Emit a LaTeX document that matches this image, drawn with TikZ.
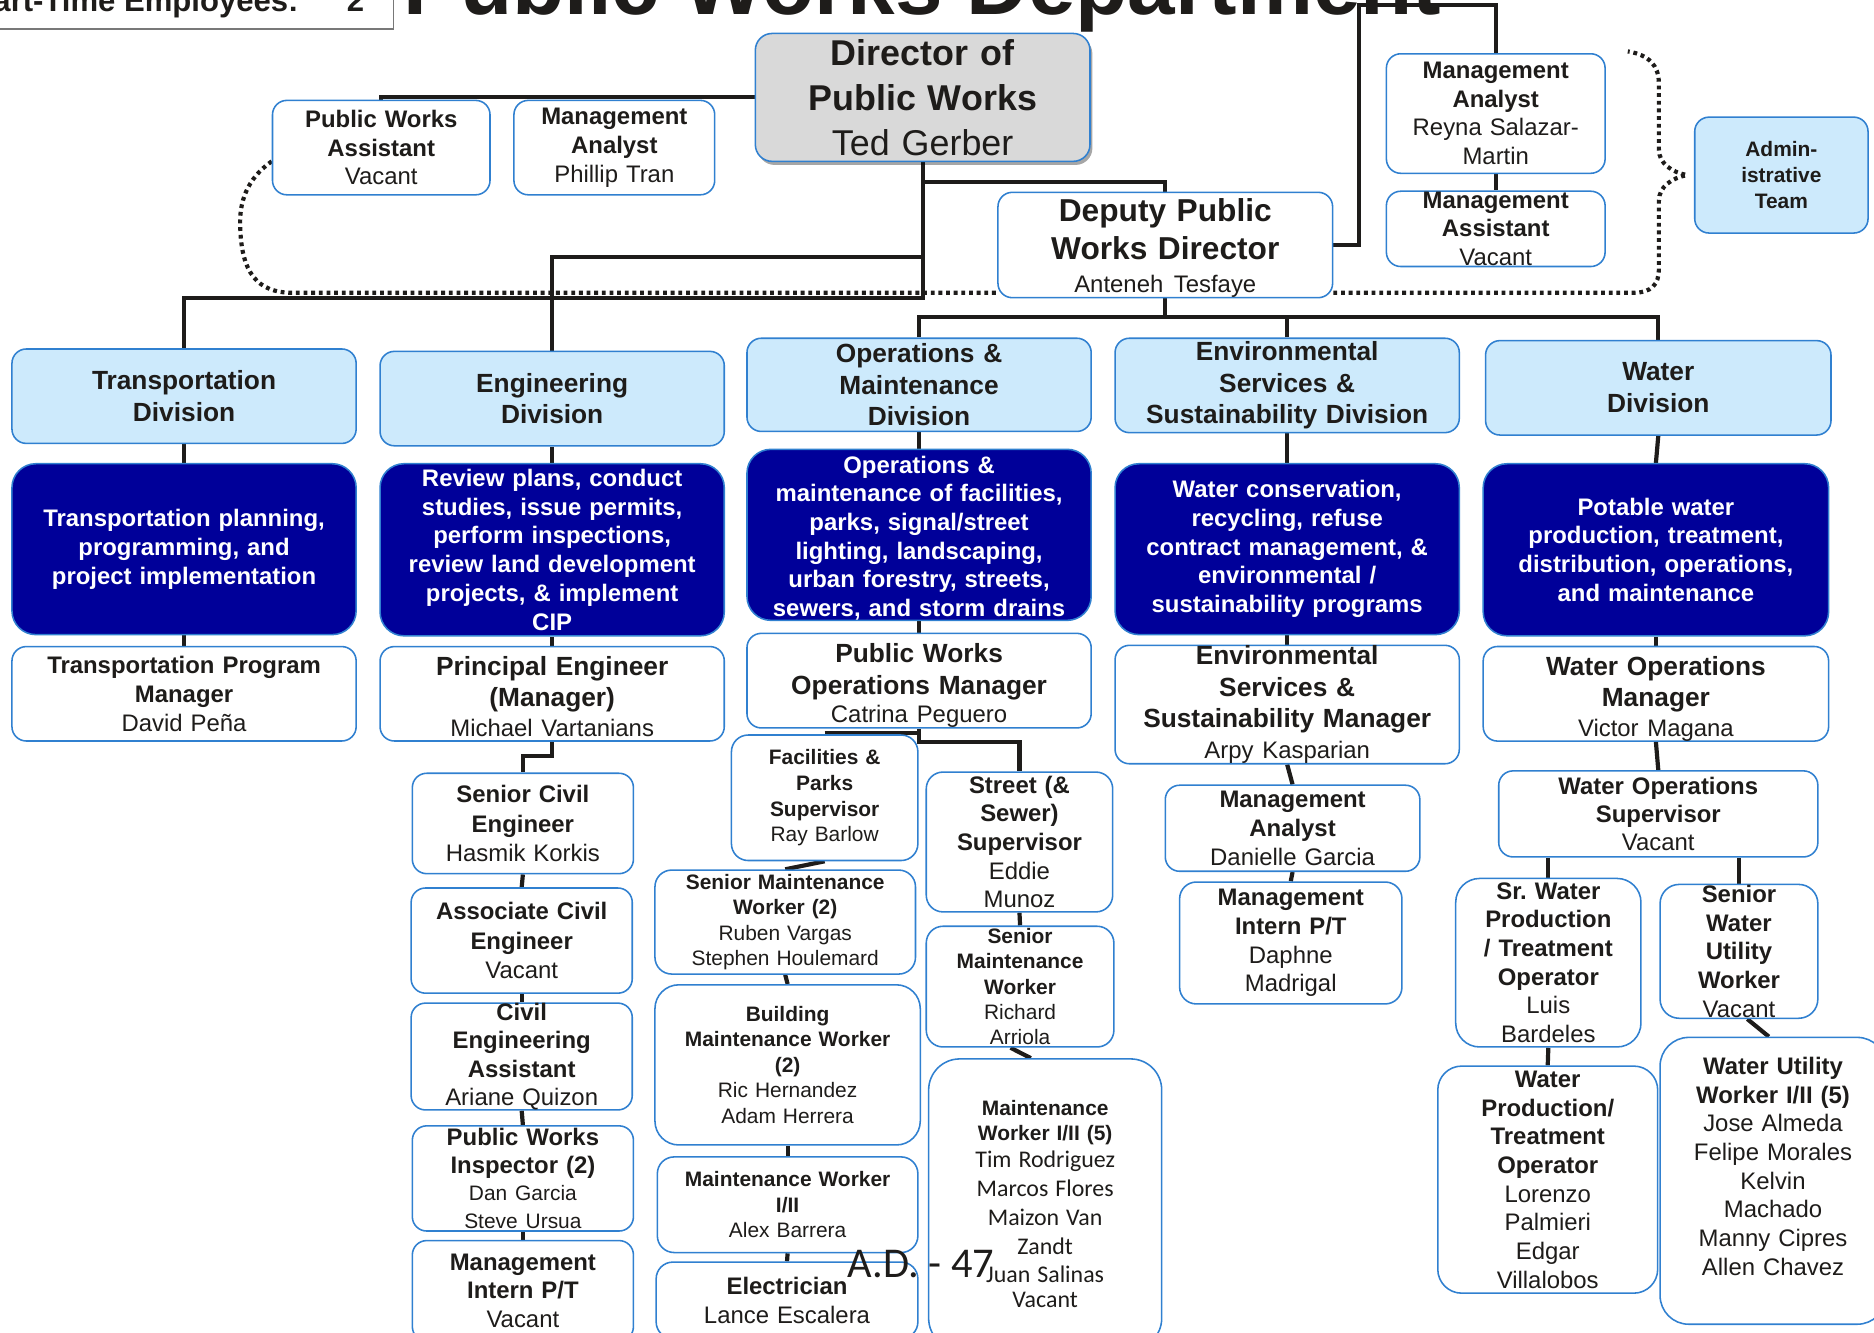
\documentclass[tikz,border=0pt]{standalone}
\usepackage{fontspec}
\setmainfont{Liberation Sans}
\newfontfamily\calib{Carlito}
\usetikzlibrary{shadows,backgrounds}
\definecolor{ink}{RGB}{30,28,26}
\definecolor{edgeblue}{RGB}{48,128,208}
\definecolor{paleblue}{RGB}{205,234,252}
\definecolor{navyfill}{RGB}{0,0,153}
\definecolor{dirgray}{RGB}{217,217,217}
\definecolor{framegray}{RGB}{120,120,120}
\frenchspacing
\begin{document}
\begin{tikzpicture}[x=1pt,y=-1pt,
  conn/.style={draw=ink, line width=3.5pt},
  adminlink/.style={draw=ink, line width=3.5pt, dash pattern=on 3.2pt off 3.2pt},
  sz/.style 2 args={minimum width=#1pt, minimum height=#2pt, text width=#1pt},
  orgbox/.style={draw=edgeblue, line width=1.3pt, fill=white, rounded corners=12pt,
    inner sep=0pt, align=center, text=ink},
  bigbox/.style={orgbox, rounded corners=20pt},
  divbox/.style={orgbox, fill=paleblue, font=\fontsize{22}{26.5}\selectfont\bfseries},
  descbox/.style={orgbox, fill=navyfill, rounded corners=20pt, text=white,
    font=\fontsize{20}{24}\selectfont\bfseries},
  fa/.style={font=\fontsize{20}{24}\selectfont},
  fb/.style={font=\fontsize{17.5}{21.3}\selectfont},
  fm/.style={font=\fontsize{22}{26.5}\selectfont},
  headtext/.style={anchor=base west, inner sep=0pt, text=ink}]
\useasboundingbox (0,0) rectangle (1568,1115);

% ---------- header ----------
\node[draw=framegray, line width=1.4pt, fill=white, minimum width=360pt,
  minimum height=45pt, anchor=south east, inner sep=0pt] (ptbox) at (330,25) {};
\node[headtext, font=\fontsize{26}{30}\selectfont\bfseries] (pttext) at (-23,10) {Part-Time Employees:};
\node[headtext, font=\fontsize{26}{30}\selectfont\bfseries] (ptcount) at (290,10) {2};
\node[headtext, font=\fontsize{71.5}{80}\selectfont\bfseries] (title) at (337,12.5) {Public Works Department};

% ---------- director level ----------
\node[orgbox, fill=dirgray, rounded corners=14pt, sz={280}{107},
  drop shadow={shadow xshift=2pt, shadow yshift=-3pt, opacity=0.35, fill=black},
  font=\fontsize{30}{37.5}\selectfont] (dir) at (772,81.5)
  {\textbf{Director of}\\\textbf{Public Works}\\Ted Gerber};
\node[orgbox, sz={182}{79}, fa] (pwa) at (319,123.5) {\textbf{Public Works}\\\textbf{Assistant}\\Vacant};
\node[orgbox, sz={168}{79}, fa] (ma1) at (514,123.5) {\textbf{Management}\\\textbf{Analyst}\\Phillip Tran};
\node[orgbox, sz={280}{80}, font=\fontsize{26.5}{32}\selectfont] (dep) at (975,205)
  {\rule{0pt}{24pt}\textbf{Deputy Public}\\\textbf{Works Director}\\[-4pt]{\fontsize{20}{24}\selectfont Anteneh Tesfaye}};
\node[orgbox, sz={183}{100}, fa] (ma2) at (1251.5,95)
  {\textbf{Management}\\\textbf{Analyst}\\Reyna Salazar-\\Martin};
\node[orgbox, sz={183}{63}, fa] (massist) at (1251.5,191.5)
  {\textbf{Management}\\\textbf{Assistant}\\Vacant};
\node[orgbox, fill=paleblue, sz={145}{97}, font=\fontsize{17.5}{21.5}\selectfont\bfseries] (admin)
  at (1490.5,146.5) {Admin-\\istrative\\Team};

% ---------- divisions ----------
\node[divbox, sz={288}{79}] (tdiv) at (154,331.5) {Transportation\\Division};
\node[divbox, sz={288}{79}] (ediv) at (462,333.5) {Engineering\\Division};
\node[divbox, sz={288}{78}] (odiv) at (769,322) {Operations \&\\Maintenance\\Division};
\node[divbox, sz={288}{79}] (sdiv) at (1077,322.5) {Environmental\\Services \&\\Sustainability Division};
\node[divbox, sz={289}{79}] (wdiv) at (1387.5,324.5) {Water\\Division};

% ---------- responsibilities ----------
\node[descbox, sz={288}{143}] (tdesc) at (154,459.5)
  {Transportation planning,\\programming, and\\project implementation};
\node[descbox, sz={288}{144}] (edesc) at (462,460)
  {Review plans, conduct\\studies, issue permits,\\perform inspections,\\review land development\\projects, \& implement\\CIP};
\node[descbox, sz={288}{143}] (odesc) at (769,447.5)
  {\rule{0pt}{20pt}Operations \&\\maintenance of facilities,\\parks, signal/street\\lighting, landscaping,\\urban forestry, streets,\\sewers, and storm drains};
\node[descbox, sz={288}{143}] (sdesc) at (1077,459.5)
  {Water conservation,\\recycling, refuse\\contract management, \&\\environmental /\\sustainability programs};
\node[descbox, sz={289}{144}] (wdesc) at (1385.5,460)
  {Potable water\\production, treatment,\\distribution, operations,\\and maintenance};

% ---------- managers ----------
\node[orgbox, sz={288}{79}, fa] (tmgr) at (154,580.5)
  {\textbf{Transportation Program}\\\textbf{Manager}\\David Peña};
\node[orgbox, sz={288}{79}, font=\fontsize{22}{26}\selectfont] (emgr) at (462,580.5)
  {\rule{0pt}{20pt}\textbf{Principal Engineer}\\\textbf{(Manager)}\\[-1pt]{\fontsize{20}{24}\selectfont Michael Vartanians}};
\node[orgbox, sz={288}{79}, font=\fontsize{22}{27}\selectfont] (omgr) at (769,569.5)
  {\rule{0pt}{24pt}\textbf{Public Works}\\\textbf{Operations Manager}\\[-3pt]{\fontsize{20}{24}\selectfont Catrina Peguero}};
\node[orgbox, sz={288}{97}, fm] (smgr) at (1077,589.5)
  {\textbf{Environmental}\\\textbf{Services \&}\\\textbf{Sustainability Manager}\\[-0.5pt]{\fontsize{20}{24}\selectfont Arpy Kasparian}};
\node[orgbox, sz={289}{79}, font=\fontsize{22}{26}\selectfont] (wmgr) at (1385.5,580.5)
  {\rule{0pt}{24pt}\textbf{Water Operations}\\\textbf{Manager}\\[-1pt]{\fontsize{20}{24}\selectfont Victor Magana}};

% ---------- engineering staff ----------
\node[orgbox, sz={185}{84}, font=\fontsize{20}{24.5}\selectfont] (sce) at (437.5,689)
  {\textbf{Senior Civil}\\\textbf{Engineer}\\Hasmik Korkis};
\node[orgbox, sz={185}{88}, font=\fontsize{20}{24.5}\selectfont] (ace) at (436.5,787)
  {\textbf{Associate Civil}\\\textbf{Engineer}\\Vacant};
\node[orgbox, sz={185}{88}, font=\fontsize{20}{23.7}\selectfont] (cea) at (436.5,884)
  {\textbf{Civil}\\\textbf{Engineering}\\\textbf{Assistant}\\Ariane Quizon};
\node[orgbox, sz={185}{88}, fa] (pwi) at (437.5,986)
  {\textbf{Public Works}\\\textbf{Inspector (2)}\\\fontsize{17.5}{22}\selectfont Dan Garcia\\\fontsize{17.5}{21}\selectfont Steve Ursua};
\node[orgbox, sz={185}{84}, fa] (mint) at (437.5,1080)
  {\textbf{Management}\\\textbf{Intern P/T}\\Vacant};

% ---------- operations staff ----------
\node[orgbox, rounded corners=14pt, sz={156}{105}, font=\fontsize{17.5}{21.5}\selectfont] (fps) at (690,667.5)
  {\textbf{Facilities \&}\\\textbf{Parks}\\\textbf{Supervisor}\\Ray Barlow};
\node[orgbox, rounded corners=14pt, sz={156}{117}, fa] (sss) at (853,704.5)
  {\textbf{Street (\&}\\\textbf{Sewer)}\\\textbf{Supervisor}\\Eddie\\Munoz};
\node[orgbox, rounded corners=14pt, sz={218}{87}, fb] (smw2) at (657,771.5)
  {\textbf{Senior Maintenance}\\\textbf{Worker (2)}\\Ruben Vargas\\Stephen Houlemard};
\node[orgbox, rounded corners=14pt, sz={157}{101}, fb] (smwr) at (853.5,825.5)
  {\textbf{Senior}\\\textbf{Maintenance}\\\textbf{Worker}\\Richard\\Arriola};
\node[bigbox, sz={222}{134}, fb] (bmw) at (659,891)
  {\textbf{Building}\\\textbf{Maintenance Worker}\\\textbf{(2)}\\Ric Hernandez\\Adam Herrera};
\node[orgbox, rounded corners=14pt, sz={218}{80}, font=\fontsize{17.5}{21.5}\selectfont] (mw) at (659,1008)
  {\textbf{Maintenance Worker}\\\textbf{I/II}\\Alex Barrera};
\node[orgbox, rounded corners=14pt, sz={219}{64}, fa] (elec) at (658.5,1088)
  {\textbf{Electrician}\\Lance Escalera};
\node[orgbox, rounded corners=26pt, sz={195}{243}, font=\fontsize{17.5}{21}\selectfont] (mw5) at (874.5,1007.5)
  {\textbf{Maintenance}\\\textbf{Worker I/II (5)}\\\fontsize{20}{23}\calib Tim Rodriguez\\\fontsize{20}{24}\calib Marcos Flores\\Maizon Van\\Zandt\\Juan Salinas\\Vacant};

% ---------- environmental staff ----------
\node[orgbox, sz={213}{72}, fa] (ma3) at (1081.5,693)
  {\textbf{Management}\\\textbf{Analyst}\\Danielle Garcia};
\node[orgbox, rounded corners=14pt, sz={186}{102}, fa] (mint2) at (1080,789)
  {\textbf{Management}\\\textbf{Intern P/T}\\Daphne\\Madrigal};

% ---------- water staff ----------
\node[orgbox, sz={267}{72}, font=\fontsize{20}{23.5}\selectfont] (wos) at (1387.5,681)
  {\textbf{Water Operations}\\\textbf{Supervisor}\\Vacant};
\node[bigbox, sz={155}{141}, fa] (swp) at (1295.5,805.5)
  {\textbf{Sr. Water}\\\textbf{Production}\\\textbf{/ Treatment}\\\textbf{Operator}\\Luis\\Bardeles};
\node[orgbox, rounded corners=16pt, sz={132}{112}, fa] (swu) at (1455,796)
  {\textbf{Senior}\\\textbf{Water}\\\textbf{Utility}\\\textbf{Worker}\\Vacant};
\node[bigbox, sz={184}{190}, fa] (wpt) at (1295,987)
  {\textbf{Water}\\\textbf{Production/}\\\textbf{Treatment}\\\textbf{Operator}\\Lorenzo\\Palmieri\\Edgar\\Villalobos};
\node[orgbox, rounded corners=24pt, sz={189}{240}, fa, text depth=192.4pt] (wuw) at (1483.5,988)
  {\textbf{Water Utility}\\\textbf{Worker I/II (5)}\\Jose Almeda\\Felipe Morales\\Kelvin\\Machado\\Manny Cipres\\Allen Chavez};

% ---------- page number ----------
\node[headtext, font=\fontsize{35.5}{40}\calib] (pageno) at (709,1069) {A.D. - 47};

% ---------- reporting lines ----------
\begin{scope}[on background layer]
  \fill[white] (0,0) rectangle (1568,1115);
  % administrative team bracket
  \draw[adminlink] ([yshift=-11.5pt]pwa.west) .. controls (206,150) and (200,170) .. (201,190)
    .. controls (202,228) and (215,245) .. (245,245) -- (dep.west |- 0,245);
  \draw[adminlink] (dep.east |- 0,245) -- (1366,245)
    .. controls (1382,245) and (1388,238) .. (1388,225) -- (1388,168)
    .. controls (1388,156) and (1399,149) .. ([xshift=-6pt]admin.west)
    .. controls (1399,144) and (1388,137) .. (1388,125) -- (1388,70)
    .. controls (1388,55) and (1380,46) .. (1362,43);
  % director and deputy
  \draw[conn] (dir.west) -| (pwa.north);
  \draw[conn] (dir.south) -- (dir.south |- 0,249) -| (tdiv.north);
  \draw[conn] (dir.south |- 0,215) -| (ediv.north);
  \draw[conn] (dir.south |- 0,152) -| (dep.north);
  \draw[conn] (dep.east) -| (1137,4) -| (ma2.north);
  \draw[conn] (ma2.south) -- (massist.north);
  \draw[conn] (dep.south) -- (dep.south |- 0,265);
  \draw[conn] (odiv.north) |- (wdiv.north |- 0,265) -- (wdiv.north);
  \draw[conn] (sdiv.north) -- (sdiv.north |- 0,265);
  % division columns
  \foreach \a/\b in {tdiv/tdesc, tdesc/tmgr, ediv/edesc, edesc/emgr, odiv/odesc,
      odesc/omgr, sdiv/sdesc, sdesc/smgr, wdiv/wdesc, wdesc/wmgr}
    \draw[conn] (\a.south) -- (\b.north);
  % engineering
  \draw[conn] (emgr.south) -- ++(0,12) -| (sce.north);
  \foreach \a/\b in {sce/ace, ace/cea, cea/pwi, pwi/mint}
    \draw[conn] (\a.south) -- (\b.north);
  % operations
  \draw[conn] (fps.north |- 0,613) -- (omgr.south |- 0,613);
  \draw[conn] (omgr.south) -- (omgr.south |- 0,621) -| (sss.north);
  \foreach \a/\b in {fps/smw2, smw2/bmw, bmw/mw, mw/elec, sss/smwr}
    \draw[conn] (\a.south) -- (\b.north);
  \draw[conn] ([xshift=-8pt]smwr.south) -- ([xshift=-12pt]mw5.north);
  % environmental
  \draw[conn] (smgr.south) -- (ma3.north);
  \draw[conn] (ma3.south) -- (mint2.north);
  % water
  \draw[conn] (wmgr.south) -- (wos.north);
  \draw[conn] (swp.north |- wos.south) -- (swp.north);
  \draw[conn] (swu.north |- wos.south) -- (swu.north);
  \draw[conn] (swp.south) -- (wpt.north);
  \draw[conn] ([xshift=7pt]swu.south) -- ([xshift=-3.5pt]wuw.north);
\end{scope}
\end{tikzpicture}
\end{document}
